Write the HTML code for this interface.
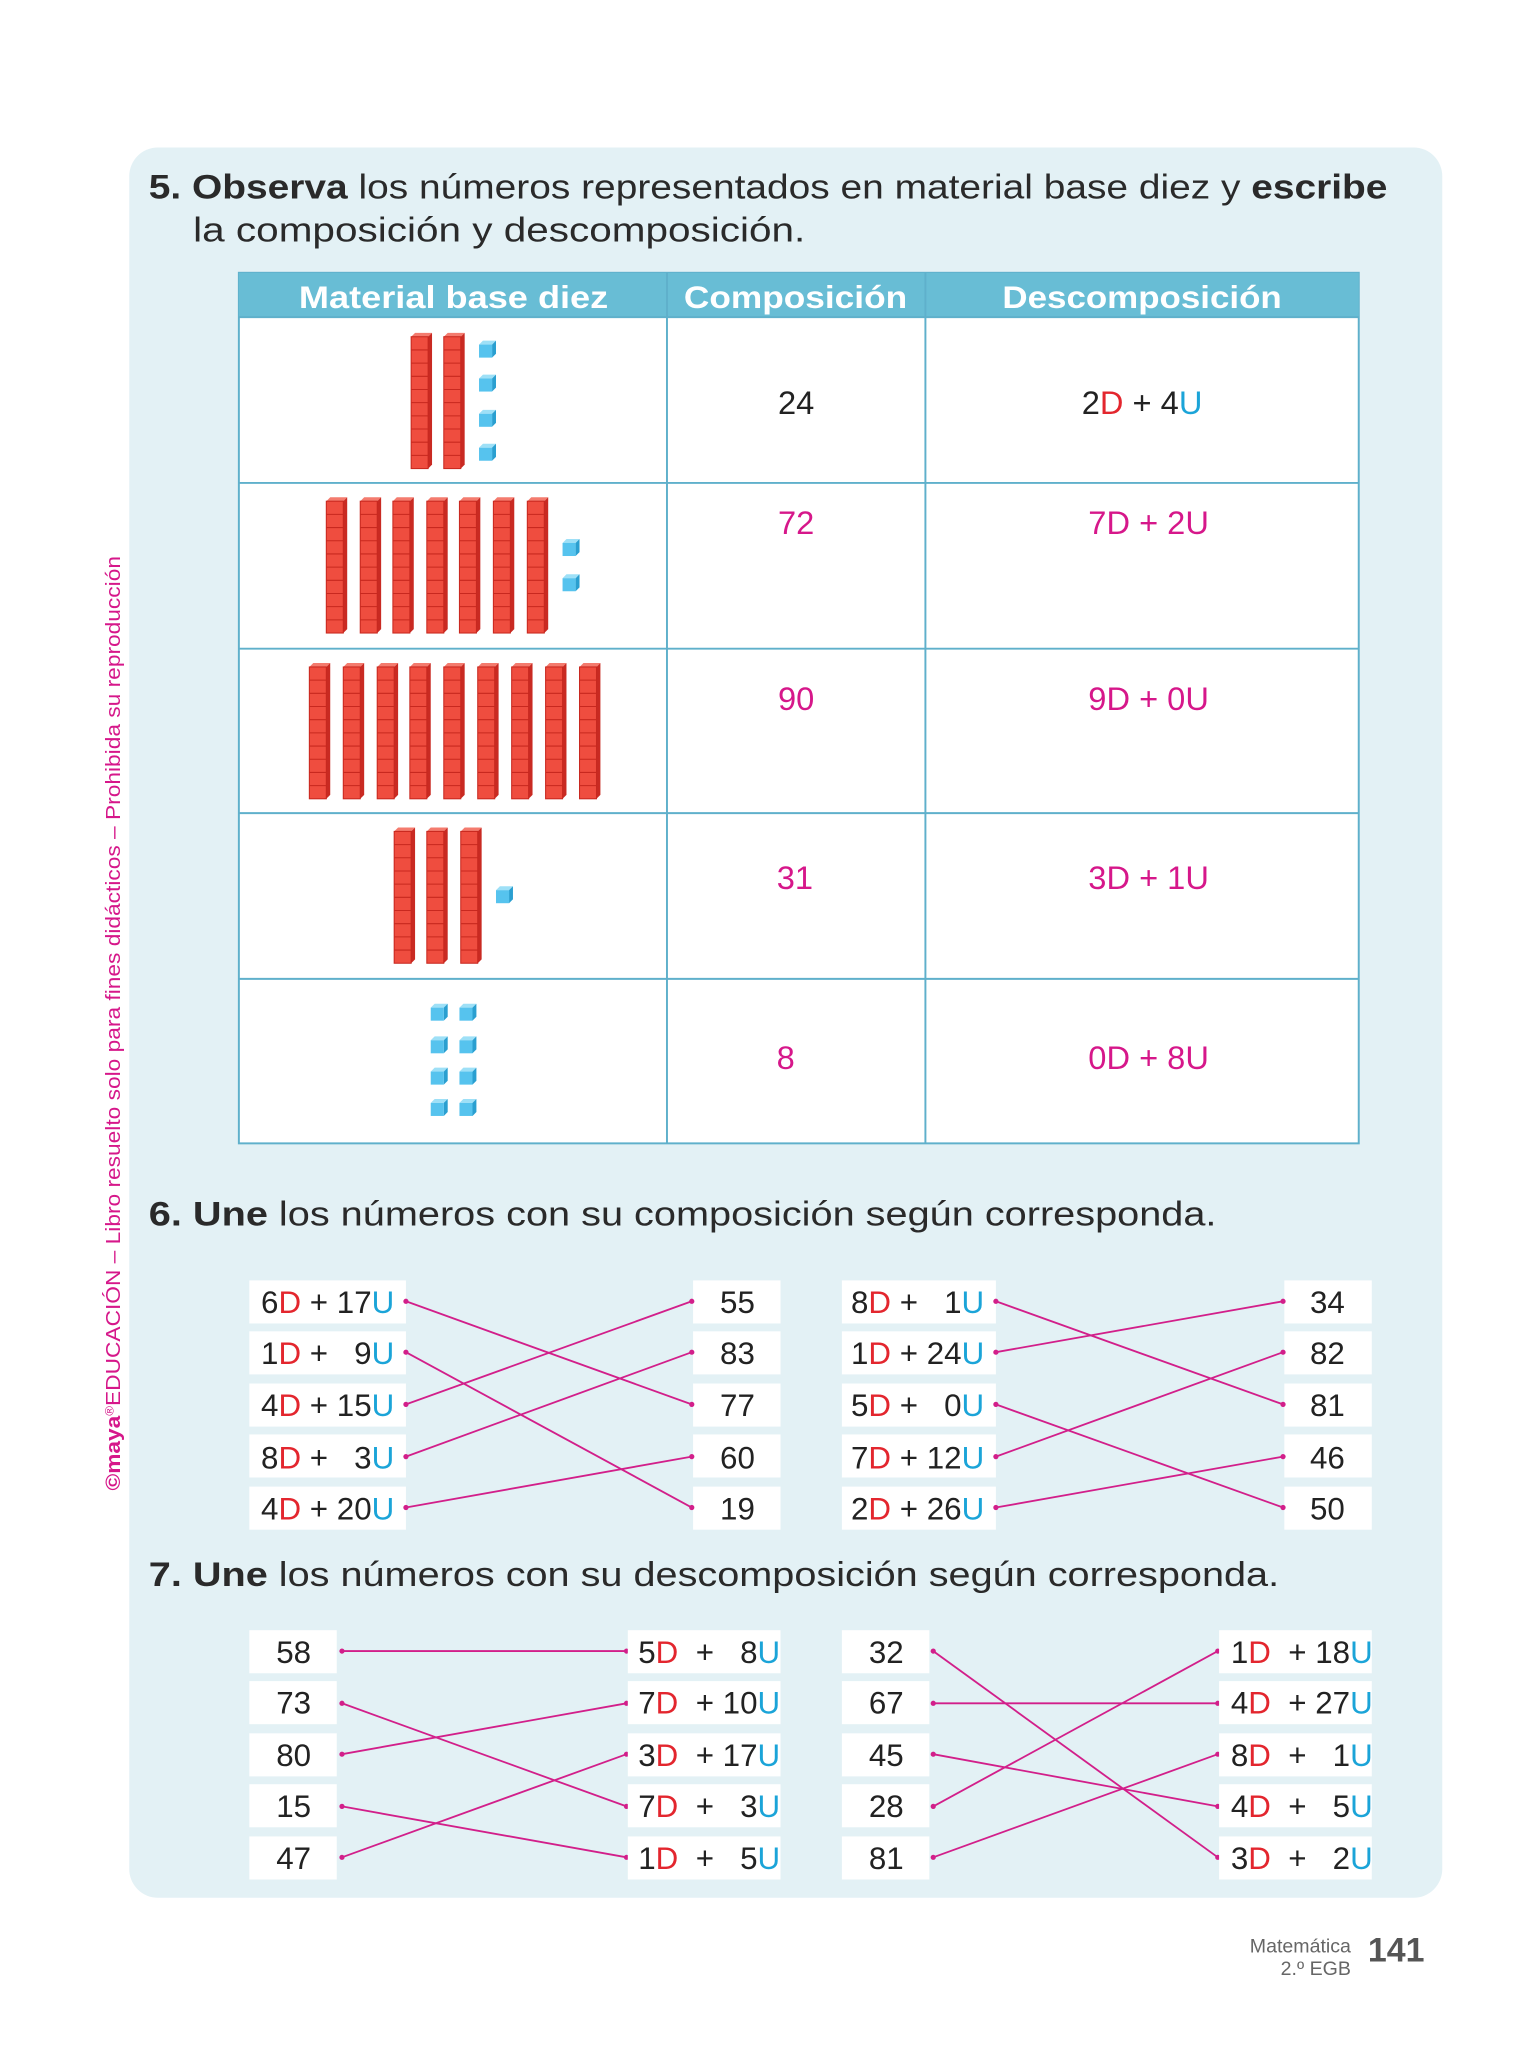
<!DOCTYPE html>
<html><head><meta charset="utf-8"><style>
html,body{margin:0;padding:0;background:#fff;}
svg{display:block;}
text{font-family:"Liberation Sans",sans-serif;white-space:pre;}
.d{fill:#e3262e}.u{fill:#1ba4d8}
</style></head><body>
<svg width="1536" height="2048" viewBox="0 0 1176.8 1569.1" xmlns="http://www.w3.org/2000/svg" xml:space="preserve">
<defs>
<g id="rod">
<polygon points="0,3 3,0 16,0 13,3" fill="#f47b6e"/>
<polygon points="13,3 16,0 16,101 13,104" fill="#c92a22"/>
<rect x="0" y="3" width="13" height="101" fill="#ef4d3f" stroke="#c8281f" stroke-width="0.8"/>
<path d="M0,13.1H13M0,23.2H13M0,33.3H13M0,43.4H13M0,53.5H13M0,63.6H13M0,73.7H13M0,83.8H13M0,93.9H13" stroke="#c8281f" stroke-width="0.8"/>
</g>
<g id="cube">
<polygon points="0,3 3,0 13,0 10,3" fill="#9ee0f7"/>
<polygon points="10,3 13,0 13,10 10,13" fill="#2a9fd0"/>
<rect x="0" y="3" width="10" height="10" fill="#56c3ee"/>
</g>
</defs>
<rect x="99" y="113" width="1006" height="1341" rx="22" fill="#e3f1f5"/>
<text transform="translate(92,1142) rotate(-90)" font-size="15.5" fill="#d6178a" textLength="716" lengthAdjust="spacingAndGlyphs"><tspan font-weight="bold">©maya</tspan><tspan font-size="9" dy="-5">®</tspan><tspan dy="5">EDUCACIÓN – Libro resuelto solo para fines didácticos – Prohibida su reproducción</tspan></text>
<text x="114" y="152" font-size="26.5" fill="#2a2a2a" textLength="949" lengthAdjust="spacingAndGlyphs"><tspan font-weight="bold">5. Observa</tspan> los números representados en material base diez y <tspan font-weight="bold">escribe</tspan></text>
<text x="148" y="185" font-size="26.5" fill="#2a2a2a" textLength="469" lengthAdjust="spacingAndGlyphs">la composición y descomposición.</text>
<rect x="183" y="209" width="858" height="667" fill="#fff" stroke="#5fb0cb" stroke-width="1.5"/>
<rect x="183" y="209" width="858" height="34" fill="#68bdd5"/>
<g stroke="#5fb0cb" stroke-width="1.5">
<line x1="511" y1="209" x2="511" y2="876"/><line x1="709" y1="209" x2="709" y2="876"/>
<line x1="183" y1="243" x2="1041" y2="243"/><line x1="183" y1="370" x2="1041" y2="370"/>
<line x1="183" y1="497" x2="1041" y2="497"/><line x1="183" y1="623" x2="1041" y2="623"/>
<line x1="183" y1="750" x2="1041" y2="750"/>
</g>
<g font-size="24" font-weight="bold" fill="#fff">
<text x="229" y="236" textLength="237" lengthAdjust="spacingAndGlyphs">Material base diez</text>
<text x="524" y="236" textLength="171" lengthAdjust="spacingAndGlyphs">Composición</text>
<text x="768" y="236" textLength="214" lengthAdjust="spacingAndGlyphs">Descomposición</text>
</g>
<g font-size="25" text-anchor="middle">
<text x="610" y="317" fill="#222">24</text>
<text x="875" y="317" fill="#222">2<tspan class="d">D</tspan> + 4<tspan class="u">U</tspan></text>
<g fill="#d6178a">
<text x="610" y="409">72</text><text x="880" y="409">7D + 2U</text>
<text x="610" y="544">90</text><text x="880" y="544">9D + 0U</text>
<text x="609" y="681">31</text><text x="880" y="681">3D + 1U</text>
<text x="602" y="819">8</text><text x="880" y="819">0D + 8U</text>
</g></g>
<use href="#rod" x="315" y="255"/><use href="#rod" x="340" y="255"/>
<use href="#cube" x="367" y="261"/><use href="#cube" x="367" y="287"/><use href="#cube" x="367" y="314"/><use href="#cube" x="367" y="340"/>
<use href="#rod" x="250" y="381"/><use href="#rod" x="276" y="381"/><use href="#rod" x="301" y="381"/><use href="#rod" x="327" y="381"/><use href="#rod" x="352" y="381"/><use href="#rod" x="378" y="381"/><use href="#rod" x="404" y="381"/>
<use href="#cube" x="431" y="413"/><use href="#cube" x="431" y="440"/>
<use href="#rod" x="237" y="508"/><use href="#rod" x="263" y="508"/><use href="#rod" x="289" y="508"/><use href="#rod" x="314" y="508"/><use href="#rod" x="340" y="508"/><use href="#rod" x="366" y="508"/><use href="#rod" x="392" y="508"/><use href="#rod" x="418" y="508"/><use href="#rod" x="444" y="508"/>
<use href="#rod" x="302" y="634"/><use href="#rod" x="327" y="634"/><use href="#rod" x="353" y="634"/>
<use href="#cube" x="380" y="679"/>
<use href="#cube" x="330" y="769"/><use href="#cube" x="352" y="769"/><use href="#cube" x="330" y="794"/><use href="#cube" x="352" y="794"/>
<use href="#cube" x="330" y="818"/><use href="#cube" x="352" y="818"/><use href="#cube" x="330" y="842"/><use href="#cube" x="352" y="842"/>
<text x="114" y="939" font-size="26.5" fill="#2a2a2a" textLength="818" lengthAdjust="spacingAndGlyphs"><tspan font-weight="bold">6. Une</tspan> los números con su composición según corresponda.</text>
<g fill="#fff">
<rect x="191" y="981" width="120" height="33"/><rect x="191" y="1020" width="120" height="33"/><rect x="191" y="1060" width="120" height="33"/><rect x="191" y="1099" width="120" height="33"/><rect x="191" y="1139" width="120" height="33"/>
<rect x="531" y="981" width="67" height="33"/><rect x="531" y="1020" width="67" height="33"/><rect x="531" y="1060" width="67" height="33"/><rect x="531" y="1099" width="67" height="33"/><rect x="531" y="1139" width="67" height="33"/>
<rect x="645" y="981" width="118" height="33"/><rect x="645" y="1020" width="118" height="33"/><rect x="645" y="1060" width="118" height="33"/><rect x="645" y="1099" width="118" height="33"/><rect x="645" y="1139" width="118" height="33"/>
<rect x="984" y="981" width="67" height="33"/><rect x="984" y="1020" width="67" height="33"/><rect x="984" y="1060" width="67" height="33"/><rect x="984" y="1099" width="67" height="33"/><rect x="984" y="1139" width="67" height="33"/>
</g>
<g font-size="24" fill="#222">
<text x="200" y="1006">6<tspan class="d">D</tspan> + 17<tspan class="u">U</tspan></text>
<text x="200" y="1045">1<tspan class="d">D</tspan> +   9<tspan class="u">U</tspan></text>
<text x="200" y="1085">4<tspan class="d">D</tspan> + 15<tspan class="u">U</tspan></text>
<text x="200" y="1125">8<tspan class="d">D</tspan> +   3<tspan class="u">U</tspan></text>
<text x="200" y="1164">4<tspan class="d">D</tspan> + 20<tspan class="u">U</tspan></text>
<text x="652" y="1006">8<tspan class="d">D</tspan> +   1<tspan class="u">U</tspan></text>
<text x="652" y="1045">1<tspan class="d">D</tspan> + 24<tspan class="u">U</tspan></text>
<text x="652" y="1085">5<tspan class="d">D</tspan> +   0<tspan class="u">U</tspan></text>
<text x="652" y="1125">7<tspan class="d">D</tspan> + 12<tspan class="u">U</tspan></text>
<text x="652" y="1164">2<tspan class="d">D</tspan> + 26<tspan class="u">U</tspan></text>
<g text-anchor="middle">
<text x="565" y="1006">55</text><text x="565" y="1045">83</text><text x="565" y="1085">77</text><text x="565" y="1125">60</text><text x="565" y="1164">19</text>
<text x="1017" y="1006">34</text><text x="1017" y="1045">82</text><text x="1017" y="1085">81</text><text x="1017" y="1125">46</text><text x="1017" y="1164">50</text>
</g></g>
<g stroke="#d21f8a" stroke-width="1.4" fill="none">
<line x1="311" y1="997" x2="530" y2="1076"/><line x1="311" y1="1036" x2="530" y2="1155"/><line x1="311" y1="1076" x2="530" y2="997"/><line x1="311" y1="1116" x2="530" y2="1036"/><line x1="311" y1="1155" x2="530" y2="1116"/>
<line x1="763" y1="997" x2="983" y2="1076"/><line x1="763" y1="1036" x2="983" y2="997"/><line x1="763" y1="1076" x2="983" y2="1155"/><line x1="763" y1="1116" x2="983" y2="1036"/><line x1="763" y1="1155" x2="983" y2="1116"/>
</g>
<g fill="#d21f8a">
<circle cx="311" cy="997" r="2"/><circle cx="311" cy="1036" r="2"/><circle cx="311" cy="1076" r="2"/><circle cx="311" cy="1116" r="2"/><circle cx="311" cy="1155" r="2"/>
<circle cx="530" cy="997" r="2"/><circle cx="530" cy="1036" r="2"/><circle cx="530" cy="1076" r="2"/><circle cx="530" cy="1116" r="2"/><circle cx="530" cy="1155" r="2"/>
<circle cx="763" cy="997" r="2"/><circle cx="763" cy="1036" r="2"/><circle cx="763" cy="1076" r="2"/><circle cx="763" cy="1116" r="2"/><circle cx="763" cy="1155" r="2"/>
<circle cx="983" cy="997" r="2"/><circle cx="983" cy="1036" r="2"/><circle cx="983" cy="1076" r="2"/><circle cx="983" cy="1116" r="2"/><circle cx="983" cy="1155" r="2"/>
<circle cx="262" cy="1265" r="2"/><circle cx="262" cy="1305" r="2"/><circle cx="262" cy="1344" r="2"/><circle cx="262" cy="1384" r="2"/><circle cx="262" cy="1423" r="2"/>
<circle cx="480" cy="1265" r="2"/><circle cx="480" cy="1305" r="2"/><circle cx="480" cy="1344" r="2"/><circle cx="480" cy="1384" r="2"/><circle cx="480" cy="1423" r="2"/>
<circle cx="715" cy="1265" r="2"/><circle cx="715" cy="1305" r="2"/><circle cx="715" cy="1344" r="2"/><circle cx="715" cy="1384" r="2"/><circle cx="715" cy="1423" r="2"/>
<circle cx="933" cy="1265" r="2"/><circle cx="933" cy="1305" r="2"/><circle cx="933" cy="1344" r="2"/><circle cx="933" cy="1384" r="2"/><circle cx="933" cy="1423" r="2"/>
</g>
<text x="114" y="1215" font-size="26.5" fill="#2a2a2a" textLength="866" lengthAdjust="spacingAndGlyphs"><tspan font-weight="bold">7. Une</tspan> los números con su descomposición según corresponda.</text>
<g fill="#fff">
<rect x="191" y="1249" width="67" height="33"/><rect x="191" y="1288" width="67" height="33"/><rect x="191" y="1328" width="67" height="33"/><rect x="191" y="1367" width="67" height="33"/><rect x="191" y="1407" width="67" height="33"/>
<rect x="481" y="1249" width="117" height="33"/><rect x="481" y="1288" width="117" height="33"/><rect x="481" y="1328" width="117" height="33"/><rect x="481" y="1367" width="117" height="33"/><rect x="481" y="1407" width="117" height="33"/>
<rect x="645" y="1249" width="67" height="33"/><rect x="645" y="1288" width="67" height="33"/><rect x="645" y="1328" width="67" height="33"/><rect x="645" y="1367" width="67" height="33"/><rect x="645" y="1407" width="67" height="33"/>
<rect x="934" y="1249" width="117" height="33"/><rect x="934" y="1288" width="117" height="33"/><rect x="934" y="1328" width="117" height="33"/><rect x="934" y="1367" width="117" height="33"/><rect x="934" y="1407" width="117" height="33"/>
</g>
<g font-size="24" fill="#222">
<g text-anchor="middle">
<text x="225" y="1274">58</text><text x="225" y="1313">73</text><text x="225" y="1353">80</text><text x="225" y="1392">15</text><text x="225" y="1432">47</text>
<text x="679" y="1274">32</text><text x="679" y="1313">67</text><text x="679" y="1353">45</text><text x="679" y="1392">28</text><text x="679" y="1432">81</text>
</g>
<text x="489" y="1274">5<tspan class="d">D</tspan>  +   8<tspan class="u">U</tspan></text>
<text x="489" y="1313">7<tspan class="d">D</tspan>  + 10<tspan class="u">U</tspan></text>
<text x="489" y="1353">3<tspan class="d">D</tspan>  + 17<tspan class="u">U</tspan></text>
<text x="489" y="1392">7<tspan class="d">D</tspan>  +   3<tspan class="u">U</tspan></text>
<text x="489" y="1432">1<tspan class="d">D</tspan>  +   5<tspan class="u">U</tspan></text>
<text x="943" y="1274">1<tspan class="d">D</tspan>  + 18<tspan class="u">U</tspan></text>
<text x="943" y="1313">4<tspan class="d">D</tspan>  + 27<tspan class="u">U</tspan></text>
<text x="943" y="1353">8<tspan class="d">D</tspan>  +   1<tspan class="u">U</tspan></text>
<text x="943" y="1392">4<tspan class="d">D</tspan>  +   5<tspan class="u">U</tspan></text>
<text x="943" y="1432">3<tspan class="d">D</tspan>  +   2<tspan class="u">U</tspan></text>
</g>
<g stroke="#d21f8a" stroke-width="1.4" fill="none">
<line x1="262" y1="1265" x2="480" y2="1265"/><line x1="262" y1="1305" x2="480" y2="1384"/><line x1="262" y1="1344" x2="480" y2="1305"/><line x1="262" y1="1384" x2="480" y2="1423"/><line x1="262" y1="1423" x2="480" y2="1344"/>
<line x1="715" y1="1265" x2="933" y2="1423"/><line x1="715" y1="1305" x2="933" y2="1305"/><line x1="715" y1="1344" x2="933" y2="1384"/><line x1="715" y1="1384" x2="933" y2="1265"/><line x1="715" y1="1423" x2="933" y2="1344"/>
</g>
<text x="1035" y="1496" font-size="15" fill="#666" text-anchor="end">Matemática</text>
<text x="1035" y="1513" font-size="15" fill="#666" text-anchor="end">2.º EGB</text>
<text x="1048" y="1503" font-size="26" font-weight="bold" fill="#555">141</text>
</svg>
</body></html>
